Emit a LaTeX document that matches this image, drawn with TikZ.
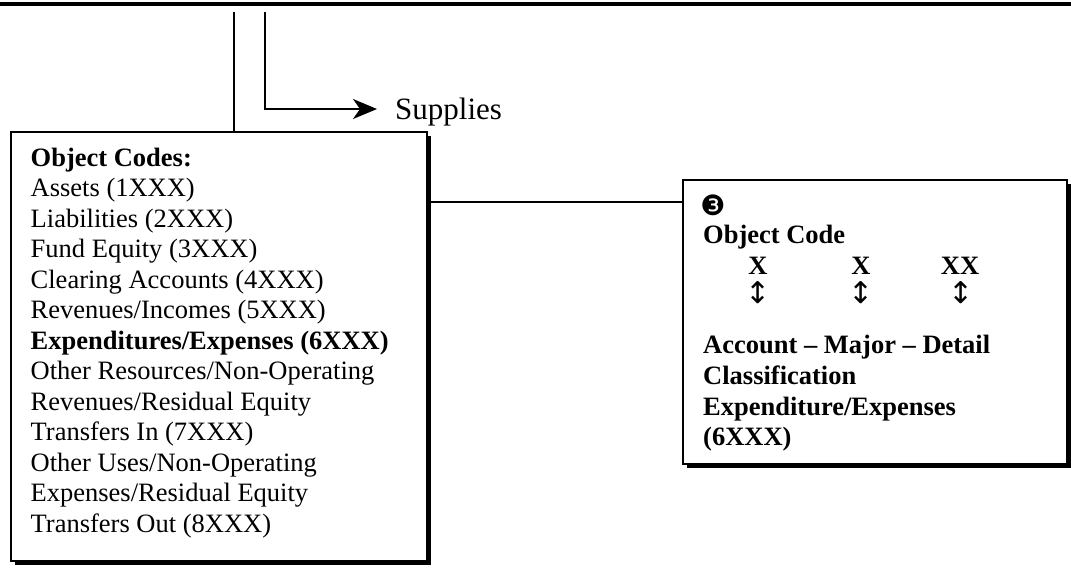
\documentclass[tikz,border=0pt]{standalone}
\usepackage{fontspec}
\setmainfont{Liberation Serif}
\newfontfamily\symfont{DejaVu Sans}
\usetikzlibrary{arrows.meta}
\begin{document}
\begin{tikzpicture}[x=1pt,y=-1pt,
  box/.style={draw=black, line width=2pt, fill=white, inner sep=0pt, anchor=north west},
  shadowbox/.style={fill=black},
  conn/.style={line width=1.8pt, line join=miter},
  lt/.style={anchor=base west, inner sep=0pt, font=\fontsize{26.5}{30}\selectfont},
  bt/.style={anchor=base west, inner sep=0pt, font=\fontsize{26.5}{30}\selectfont\bfseries},
  xt/.style={anchor=base, inner sep=0pt, font=\fontsize{26.5}{30}\selectfont\bfseries},
  ud/.style={anchor=center, inner sep=0pt, font=\symfont\fontsize{30}{30}\selectfont}]
\useasboundingbox (0,0) rectangle (1071,571);
% top rule
\fill (0,1.5) rectangle (1071,6);
% left box
\fill[shadowbox] (15,136) rectangle (431,565);
\node[box, minimum width=416pt, minimum height=429pt] (lbox) at (10,131) {};
\node[bt] (l0) at (30.5,166) {Object Codes:};
\node[lt] (l1) at (30.5,196.5) {Assets (1XXX)};
\node[lt] (l2) at (30.5,227) {Liabilities (2XXX)};
\node[lt] (l3) at (30.5,257.5) {Fund Equity (3XXX)};
\node[lt] (l4) at (30.5,288) {Clearing Accounts (4XXX)};
\node[lt] (l5) at (30.5,318.5) {Revenues/Incomes (5XXX)};
\node[bt] (l6) at (30.5,349) {Expenditures/Expenses (6XXX)};
\node[lt] (l7) at (30.5,379.5) {Other Resources/Non-Operating};
\node[lt] (l8) at (30.5,410) {Revenues/Residual Equity};
\node[lt] (l9) at (30.5,440.5) {Transfers In (7XXX)};
\node[lt] (l10) at (30.5,471) {Other Uses/Non-Operating};
\node[lt] (l11) at (30.5,501.5) {Expenses/Residual Equity};
\node[lt] (l12) at (30.5,532) {Transfers Out (8XXX)};
% right box
\fill[shadowbox] (687,184) rectangle (1071,468);
\node[box, minimum width=384pt, minimum height=284pt] (rbox) at (682,179) {};
\node[anchor=center, inner sep=0pt, font=\symfont\fontsize{28}{28}\selectfont] (num) at (713,205) {❸};
\node[bt] (oc) at (703,243) {Object Code};
\node[xt] (x1) at (758,274) {X};
\node[xt] (x2) at (861,274) {X};
\node[xt] (x3) at (960,274) {XX};
\node[ud] (a1) at (758,292.5) {↕};
\node[ud] (a2) at (861,292.5) {↕};
\node[ud] (a3) at (961,292.5) {↕};
\node[bt] (r1) at (703,353) {Account – Major – Detail};
\node[bt] (r2) at (703,384) {Classification};
\node[bt] (r3) at (703,415) {Expenditure/Expenses};
\node[bt] (r4) at (703,445) {(6XXX)};
% supplies
\node[anchor=base west, inner sep=0pt, font=\fontsize{31}{31}\selectfont] (supp) at (395,119) {Supplies};
% connectors
\coordinate (v1) at (234,12);
\coordinate (v2) at (265,12);
\coordinate (v2b) at (265,109);
\coordinate (tip) at (377,109);
\coordinate (hc) at (426,202);
\draw[conn] (v1) -- (v1 |- lbox.north);
\draw[conn, -{Stealth[length=24pt, width=20pt, inset=7pt]}] (v2) -- (v2b) -- (tip);
\draw[conn] (lbox.east |- hc) -- (rbox.west |- hc);
\end{tikzpicture}
\end{document}
